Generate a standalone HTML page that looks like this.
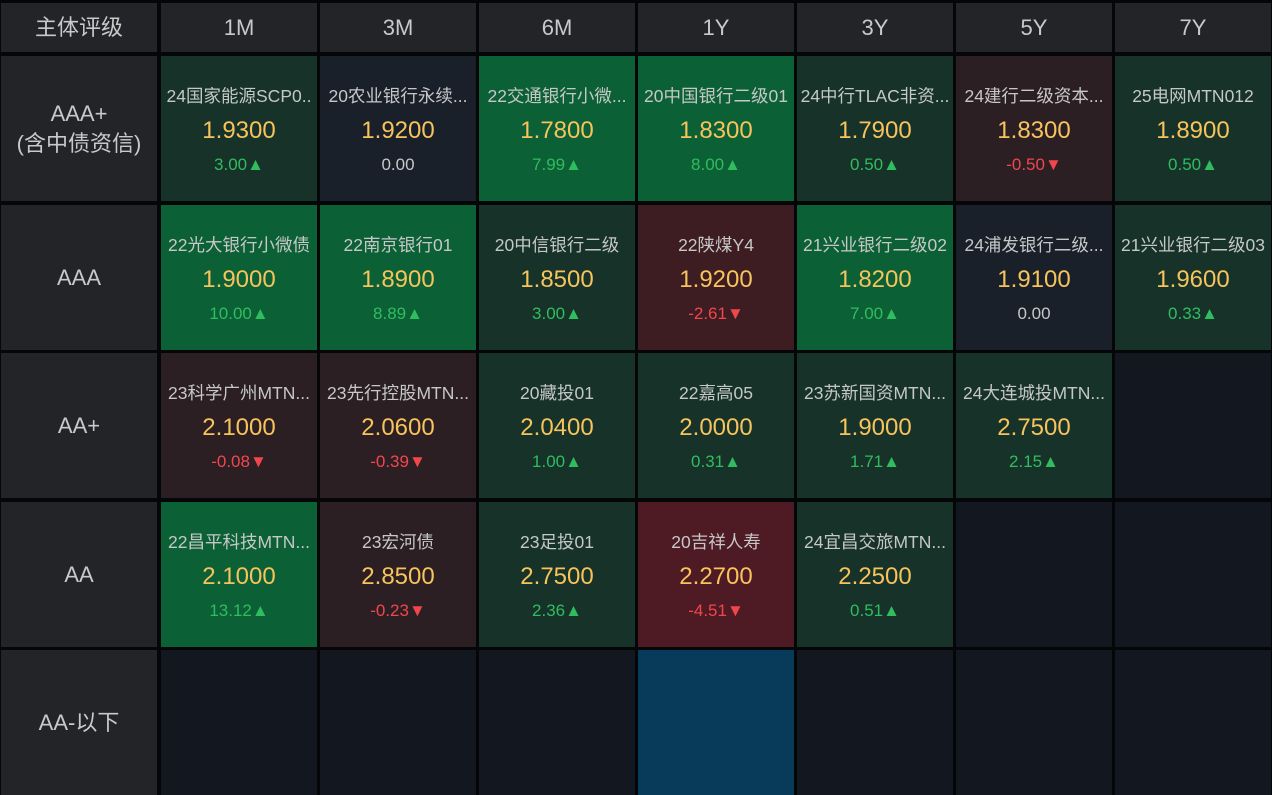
<!DOCTYPE html>
<html><head><meta charset="utf-8"><style>
body{margin:0;width:1272px;height:795px;background:#050607;position:relative;overflow:hidden;font-family:"Liberation Sans","Noto Sans CJK SC",sans-serif}
.c{position:absolute;overflow:hidden;text-align:center}
.h{background:#232428;color:#c9c9c9;font-size:22px;display:flex;align-items:center;justify-content:center;line-height:30px}
.n{position:absolute;left:0;right:0;top:28px;font-size:17.5px;color:#c6c8c8;white-space:nowrap;line-height:24px}
.v{position:absolute;left:0;right:0;top:60px;font-size:24px;color:#f6c35c;line-height:30px}
.d{position:absolute;left:0;right:0;top:98px;font-size:17px;line-height:22px}
.u{color:#2fbd5f}.r{color:#f0474d}.z{color:#c6c8c8}
</style></head><body>
<div id="g"></div>
<script>
var cols=["1M","3M","6M","1Y","3Y","5Y","7Y"];
var rows=["AAA+<br>(含中债资信)","AAA","AA+","AA","AA-以下"];
var C={S:"#0c6035",M:"#163229",N:"#1a2029",R:"#2c1f24",Q:"#3d1c22",X:"#4e1a24",E:"#131820",B:"#083a5a"};
var D=[
[["M","24国家能源SCP0..","1.9300","3.00","u"],["N","20农业银行永续...","1.9200","0.00","z"],["S","22交通银行小微...","1.7800","7.99","u"],["S","20中国银行二级01","1.8300","8.00","u"],["M","24中行TLAC非资...","1.7900","0.50","u"],["R","24建行二级资本...","1.8300","-0.50","r"],["M","25电网MTN012","1.8900","0.50","u"]],
[["S","22光大银行小微债","1.9000","10.00","u"],["S","22南京银行01","1.8900","8.89","u"],["M","20中信银行二级","1.8500","3.00","u"],["Q","22陕煤Y4","1.9200","-2.61","r"],["S","21兴业银行二级02","1.8200","7.00","u"],["N","24浦发银行二级...","1.9100","0.00","z"],["M","21兴业银行二级03","1.9600","0.33","u"]],
[["R","23科学广州MTN...","2.1000","-0.08","r"],["R","23先行控股MTN...","2.0600","-0.39","r"],["M","20藏投01","2.0400","1.00","u"],["M","22嘉高05","2.0000","0.31","u"],["M","23苏新国资MTN...","1.9000","1.71","u"],["M","24大连城投MTN...","2.7500","2.15","u"],["E"]],
[["S","22昌平科技MTN...","2.1000","13.12","u"],["R","23宏河债","2.8500","-0.23","r"],["M","23足投01","2.7500","2.36","u"],["X","20吉祥人寿","2.2700","-4.51","r"],["M","24宜昌交旅MTN...","2.2500","0.51","u"],["E"],["E"]],
[["E"],["E"],["E"],["B"],["E"],["E"],["E"]]];
var h="";
h+='<div class="c h" style="left:1px;top:3px;width:156px;height:49px">主体评级</div>';
for(var i=0;i<7;i++)h+='<div class="c h" style="left:'+(161+159*i)+'px;top:3px;width:156px;height:49px">'+cols[i]+'</div>';
for(var r=0;r<5;r++){var t=Math.round(56+148.5*r),hh=145;
h+='<div class="c h" style="left:1px;top:'+t+'px;width:156px;height:'+hh+'px">'+rows[r]+'</div>';
for(var i=0;i<7;i++){var d=D[r][i];h+='<div class="c" style="left:'+(161+159*i)+'px;top:'+t+'px;width:156px;height:'+hh+'px;background:'+C[d[0]]+'">';
if(d.length>1){h+='<div class="n">'+d[1]+'</div><div class="v">'+d[2]+'</div><div class="d '+d[4]+'">'+d[3]+(d[4]=="u"?"▲":d[4]=="r"?"▼":"")+'</div>';}
h+='</div>';}}
document.getElementById("g").innerHTML=h;
</script>
</body></html>
